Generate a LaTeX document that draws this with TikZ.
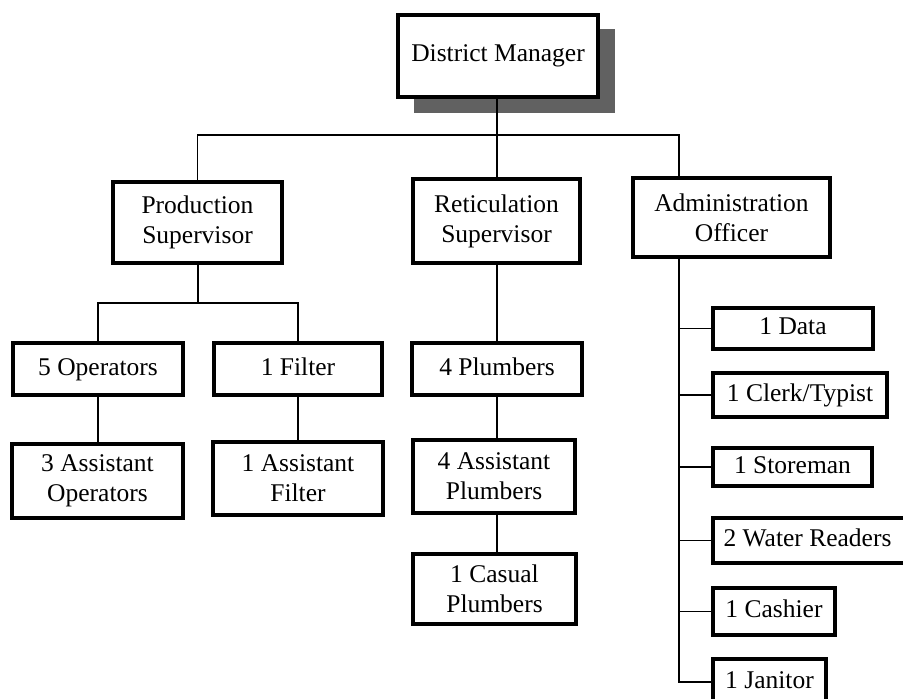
\documentclass[tikz,border=0pt]{standalone}
\usepackage{fontspec}
\setmainfont{Liberation Serif}
\begin{document}
\begin{tikzpicture}[x=1pt,y=-1pt,
  box/.style={draw=black, fill=white, line width=3.3pt, inner sep=0pt, align=center,
    font=\fontsize{25.5}{30}\selectfont},
  conn/.style={draw=black, line width=1.8pt}]
\useasboundingbox (0,0) rectangle (903,699);
\fill[white] (0,0) rectangle (903,699);
% shadow of top box
\fill[black!62] (414,29) rectangle (615,113);
\node[box, minimum width=200pt, minimum height=82pt] (dm) at (498,56) {District Manager};
% level 2
\node[box, minimum width=169pt, minimum height=81pt] (ps) at (197.5,222.5) {Production\\Supervisor};
\node[box, minimum width=167pt, minimum height=84pt] (rs) at (496.5,221) {Reticulation\\Supervisor};
\node[box, minimum width=197pt, minimum height=79pt] (ao) at (731.5,217.5) {Administration\\Officer};
% production
\node[box, minimum width=170pt, minimum height=52pt] (op5) at (98,369) {\strut5 Operators};
\node[box, minimum width=168pt, minimum height=52pt] (f1) at (298,369) {\strut1 Filter};
\node[box, minimum width=171pt, minimum height=74pt] (ao3) at (97.5,481) {3 Assistant\\Operators};
\node[box, minimum width=170pt, minimum height=73pt] (af1) at (298,478.5) {1 Assistant\\Filter};
% reticulation
\node[box, minimum width=170pt, minimum height=52pt] (p4) at (497,369) {\strut4 Plumbers};
\node[box, minimum width=162pt, minimum height=73pt] (ap4) at (494,476.5) {4 Assistant\\Plumbers};
\node[box, minimum width=163pt, minimum height=70pt] (cp1) at (494.5,589) {1 Casual\\Plumbers};
% administration
\node[box, minimum width=160pt, minimum height=41pt] (d1) at (793,328.5) {\strut1 Data};
\node[box, minimum width=174pt, minimum height=44pt] (ct) at (800,395) {\strut1 Clerk/Typist};
\node[box, minimum width=159pt, minimum height=38pt] (st) at (792.5,467) {\strut1 Storeman};
\node[box, minimum width=197pt, minimum height=45pt] (wr) at (811.5,540.5) {\strut\hspace*{-8pt}2 Water Readers};
\node[box, minimum width=122pt, minimum height=47pt] (ca) at (774,611.5) {\strut1 Cashier};
\node[box, minimum width=113pt, minimum height=46pt] (ja) at (769.5,682) {\strut1 Janitor};
% connectors
\coordinate (bus1) at (497,135);
\coordinate (aox) at (679,0);
\coordinate (bus2) at (198,303);
\draw[conn] (bus1 |- dm.south) -- (bus1);
\draw[conn] (ps.north) |- (aox |- bus1) -- (aox |- ao.north);
\draw[conn] (bus1 |- rs.north) -- (bus1);
\draw[conn] (bus2 |- ps.south) -- (bus2);
\draw[conn] (op5.north) |- (bus2) -| (f1.north);
\draw[conn] (op5.south) -- (op5.south |- ao3.north);
\draw[conn] (f1.south) -- (f1.south |- af1.north);
\draw[conn] (bus1 |- rs.south) -- (bus1 |- p4.north);
\draw[conn] (bus1 |- p4.south) -- (bus1 |- ap4.north);
\draw[conn] (bus1 |- ap4.south) -- (bus1 |- cp1.north);
\draw[conn] (aox |- ao.south) |- (ja.west);
\draw[conn] (d1.west) -- (d1.west -| aox);
\draw[conn] (ct.west) -- (ct.west -| aox);
\draw[conn] (st.west) -- (st.west -| aox);
\draw[conn] (wr.west) -- (wr.west -| aox);
\draw[conn] (ca.west) -- (ca.west -| aox);
\end{tikzpicture}
\end{document}
